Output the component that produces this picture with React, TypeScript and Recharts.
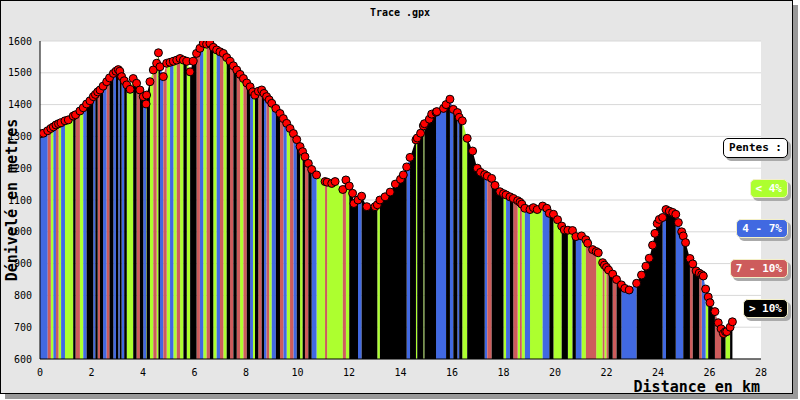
import { ComposedChart, Area, Scatter, XAxis, YAxis, CartesianGrid } from "recharts";

// track points: distance (km) and elevation (m)
const DIST = [
  0, 0.13, 0.3, 0.42, 0.52, 0.62, 0.72, 0.82, 0.97, 1.1,
  1.29, 1.38, 1.55, 1.68, 1.81, 1.94, 2.07, 2.15, 2.24, 2.33,
  2.45, 2.59, 2.7, 2.85, 2.95, 3.04, 3.1, 3.17, 3.27, 3.37,
  3.5, 3.62, 3.75, 3.88, 4.01, 4.12, 4.14, 4.27, 4.4, 4.53,
  4.6, 4.66, 4.79, 4.92, 5.05, 5.18, 5.31, 5.44, 5.57, 5.7,
  5.83, 5.95, 6.08, 6.21, 6.34, 6.47, 6.6, 6.73, 6.86, 6.99,
  7.12, 7.25, 7.38, 7.51, 7.64, 7.77, 7.9, 8.03, 8.16, 8.27,
  8.35, 8.48, 8.61, 8.7, 8.8, 8.9, 9.0, 9.16, 9.32, 9.45,
  9.58, 9.71, 9.84, 9.97, 10.1, 10.2, 10.29, 10.42, 10.55, 10.74,
  11.07, 11.15, 11.33, 11.46, 11.76, 11.88, 12.01, 12.14, 12.19, 12.35,
  12.49, 12.69, 13.01, 13.1, 13.2, 13.4, 13.6, 13.8, 14.0, 14.11,
  14.24, 14.37, 14.6, 14.65, 14.78, 14.89, 14.93, 15.12, 15.21, 15.38,
  15.41, 15.67, 15.77, 15.92, 16.05, 16.21, 16.28, 16.4, 16.59, 16.8,
  16.98, 17.11, 17.27, 17.37, 17.54, 17.67, 17.86, 18.0, 18.1, 18.25,
  18.38, 18.55, 18.64, 18.71, 18.83, 19.03, 19.16, 19.31, 19.52, 19.68,
  19.78, 19.94, 20.1, 20.26, 20.36, 20.5, 20.68, 20.81, 21.03, 21.2,
  21.27, 21.46, 21.6, 21.68, 21.85, 21.92, 22.0, 22.08, 22.24, 22.39,
  22.58, 22.71, 22.88, 23.17, 23.36, 23.53, 23.66, 23.79, 23.88, 23.97,
  24.05, 24.18, 24.31, 24.44, 24.57, 24.69, 24.79, 24.92, 24.98, 25.07,
  25.24, 25.35, 25.48, 25.6, 25.7, 25.76, 25.85, 25.95, 26.02, 26.21,
  26.34, 26.45, 26.54, 26.62, 26.67, 26.8, 26.89,
];

const ELEV = [
  1308, 1310, 1318, 1325, 1330, 1336, 1340, 1343, 1349, 1352,
  1364, 1368, 1380, 1390, 1402, 1412, 1425, 1432, 1440, 1446,
  1458, 1472, 1484, 1498, 1505, 1510, 1505, 1488, 1475, 1462,
  1448, 1482, 1467, 1446, 1425, 1402, 1430, 1472, 1509, 1530,
  1563, 1519, 1488, 1530, 1533, 1536, 1540, 1545, 1540, 1536,
  1503, 1536, 1561, 1577, 1593, 1590, 1593, 1580, 1572, 1566,
  1561, 1548, 1536, 1522, 1509, 1495, 1482, 1468, 1456, 1440,
  1430, 1442, 1446, 1435, 1425, 1415, 1404, 1388, 1372, 1356,
  1341, 1325, 1309, 1290, 1268, 1252, 1236, 1215, 1196, 1179,
  1158, 1156, 1152, 1158, 1133, 1163, 1144, 1121, 1089, 1100,
  1112, 1079, 1079, 1085, 1100, 1110, 1125, 1150, 1165, 1179,
  1204, 1234, 1289, 1295, 1310, 1333, 1340, 1354, 1370, 1376,
  1378, 1388, 1400, 1417, 1385, 1375, 1360, 1349, 1294, 1254,
  1200, 1187, 1180, 1175, 1168, 1146, 1126, 1120, 1116, 1110,
  1105, 1098, 1093, 1087, 1074, 1070, 1076, 1070, 1081, 1074,
  1058, 1055, 1038, 1018, 1006, 1005, 1004, 985, 987, 975,
  964, 944, 938, 934, 903, 895, 888, 880, 867, 850,
  833, 822, 817, 838, 864, 892, 917, 958, 995, 1026,
  1039, 1045, 1070, 1065, 1061, 1055, 1029, 1000, 987, 966,
  916, 899, 877, 870, 865, 861, 820, 795, 777, 749,
  714, 695, 680, 686, 686, 700, 717,
];

// slope class of each segment between two points: g < 4%, b 4-7%, r 7-10%, k > 10%
const SLOPE = (
  "bbrgbrgbgg" + "krgbkkbkrk" + "brkbkbkbkg" + "gkrkbgkgrg" +
  "kbrgbgrgkg" + "kkrbgrkgbr" + "gkrkrgrkbg" + "krkbrgbkrb" +
  "grbkgkrkbg" + "rgggrgkkkb" + "kkkgkkkkkk" + "bkgkkgkkkb" +
  "bbkbkbkgkk" + "kkbrkkkgbk" + "rgrgbgggbb" + "kggkkgkbgr" +
  "rrggrgrkrk" + "bbbkkkkkkk" + "kbkkkbbbkk" + "rkkrbbgkkr" + "rkkggk"
).split("");

const CLASSES = ["g", "b", "r", "k"];
const CLASS_COLORS: Record<string, string> = { g: "#adff2f", b: "#4169e1", r: "#cd5c5c", k: "#000000" };
const LEGEND_LABELS = ["< 4%", "4 - 7%", "7 - 10%", "> 10%"];
const X_TICKS = [0, 2, 4, 6, 8, 10, 12, 14, 16, 18, 20, 22, 24, 26, 28];
const Y_TICKS = [600, 700, 800, 900, 1000, 1100, 1200, 1300, 1400, 1500, 1600];

// two rows per segment so every class gets its own vertical stripes
const rows: any[] = [];
for (let i = 0; i < DIST.length - 1; i++) {
  const c = SLOPE[i];
  const a: any = { x: DIST[i] };
  const b: any = { x: DIST[i + 1] };
  CLASSES.forEach((k) => { a[k] = null; b[k] = null; });
  a[c] = ELEV[i];
  b[c] = ELEV[i + 1];
  rows.push(a, b);
}
const points = DIST.map((x, i) => ({ x, e: ELEV[i] }));

const mono = "'DejaVu Sans Mono', monospace";
const tickStyle = { fontFamily: mono, fontSize: 10, fill: "#000" };
const LEGEND_TOPS = [179, 219, 259, 299];

export default function App() {
  return (
    <div style={{ position: "absolute", left: 0, top: 0, width: 800, height: 400, fontFamily: mono }}>
      <div style={{ position: "absolute", left: 0, top: 0, width: 793, height: 394, boxSizing: "border-box", border: "1px solid #000", background: "#e6e6e6", boxShadow: "5px 5px 0 #999" }} />
      <div style={{ position: "absolute", left: 0, top: 7, width: 800, textAlign: "center", fontSize: 10, fontWeight: "bold" }}>Trace .gpx</div>
      <div style={{ position: "absolute", left: 0, top: 0 }}>
        <ComposedChart width={800} height={400} data={rows} margin={{ top: 41, right: 39, bottom: 0, left: 0 }}>
          <CartesianGrid vertical={false} stroke="#d8d8d8" fill="#ffffff" fillOpacity={1} />
          <XAxis dataKey="x" type="number" domain={[0, 28]} ticks={X_TICKS} height={41} tickLine={false}
            axisLine={{ stroke: "#000" }} tick={tickStyle} tickMargin={4} allowDataOverflow
            label={{ value: "Distance en km", position: "insideBottomRight", offset: 0, dy: -8, dx: -1, style: { fontFamily: mono, fontSize: 15, fontWeight: "bold", fill: "#000" } }} />
          <YAxis type="number" domain={[600, 1600]} ticks={Y_TICKS} width={40} tickLine={false}
            axisLine={{ stroke: "#000" }} tick={tickStyle} tickMargin={2} allowDataOverflow
            label={{ value: "Dénivelé en metres", angle: -90, position: "center", dx: -8, style: { fontFamily: mono, fontSize: 15, fontWeight: "bold", fill: "#000" } }} />
          {CLASSES.map((k) => (
            <Area key={k} dataKey={k} type="linear" stroke="none" fill={CLASS_COLORS[k]} fillOpacity={1}
              connectNulls={false} isAnimationActive={false} dot={false} activeDot={false} />
          ))}
          <Scatter data={points} dataKey="e" isAnimationActive={false}
            shape={(p: any) => <circle cx={p.cx} cy={p.cy} r={4} fill="#ff0000" stroke="#000" strokeWidth={1} />} />
        </ComposedChart>
      </div>
      <div style={{ position: "absolute", right: 12, top: 138, height: 18, padding: "0 5px", lineHeight: "18px", background: "#fff", border: "1px solid #000", borderRadius: 5, fontSize: 11, fontWeight: "bold", boxShadow: "3px 3px 0 #aaa" }}>Pentes :</div>
      {LEGEND_LABELS.map((t, i) => (
        <div key={t} style={{ position: "absolute", right: 12, top: LEGEND_TOPS[i], height: 17, padding: "0 5px", lineHeight: "17px", background: CLASS_COLORS[CLASSES[i]], color: "#fff", border: "1px solid #f3efc8", borderRadius: 5, fontSize: 11, fontWeight: "bold", boxShadow: "3px 3px 0 #aaa" }}>{t}</div>
      ))}
    </div>
  );
}
